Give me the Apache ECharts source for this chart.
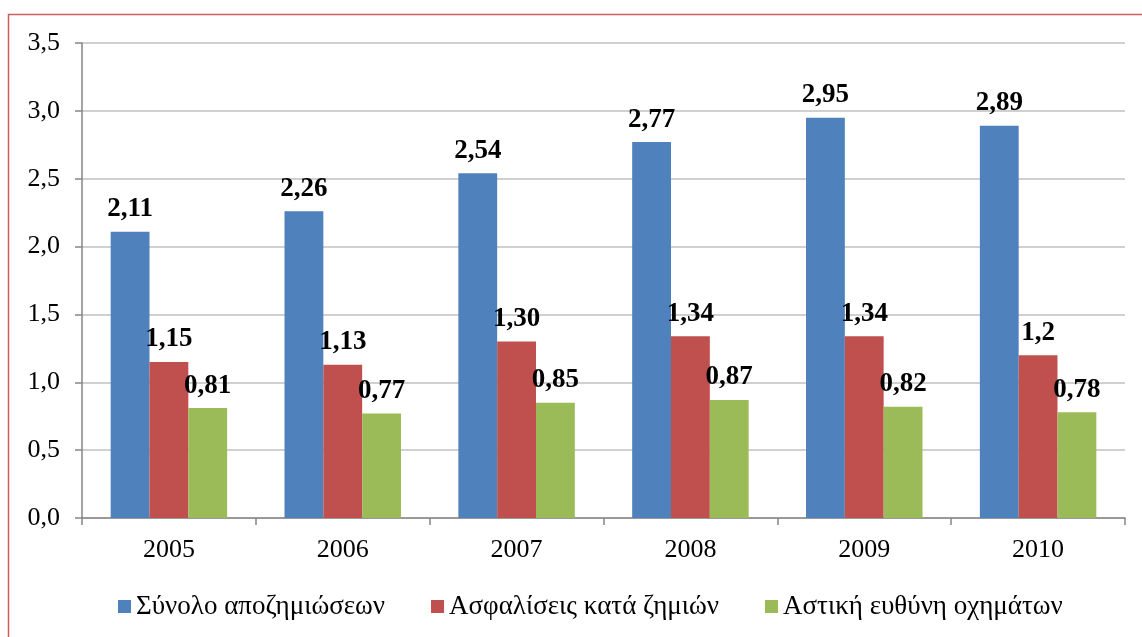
<!DOCTYPE html>
<html>
<head>
<meta charset="utf-8">
<script src="https://cdn.jsdelivr.net/npm/echarts@6/dist/echarts.min.js"></script>
<style>
  html, body { margin: 0; padding: 0; background: #fff; }
  #chart { width: 1142px; height: 637px; }
</style>
</head>
<body>
<div id="chart"></div>
<script>
const years = ["2005", "2006", "2007", "2008", "2009", "2010"];

const totalComp = [2.11, 2.26, 2.54, 2.77, 2.95, 2.89];
const damageIns = [1.15, 1.13, 1.30, 1.34, 1.34, 1.2];
const vehicleLiab = [0.81, 0.77, 0.85, 0.87, 0.82, 0.78];

// labels as printed in the picture (1,30 vs 1,2)
const totalLabels = ["2,11", "2,26", "2,54", "2,77", "2,95", "2,89"];
const damageLabels = ["1,15", "1,13", "1,30", "1,34", "1,34", "1,2"];
const vehicleLabels = ["0,81", "0,77", "0,85", "0,87", "0,82", "0,78"];

const seriesNames = [
  "Σύνολο αποζημιώσεων",
  "Ασφαλίσεις κατά ζημιών",
  "Αστική ευθύνη οχημάτων"
];

const font = "'Liberation Serif', 'Times New Roman', serif";

const chart = echarts.init(document.getElementById("chart"));

function makeBar(name, data, labels, color) {
  return {
    name: name,
    type: "bar",
    data: data,
    barGap: "0%",
    barCategoryGap: "33%",
    itemStyle: { color: color },
    label: {
      show: true,
      position: "top",
      distance: 9,
      fontFamily: font,
      fontWeight: "bold",
      fontSize: 27,
      color: "#000",
      formatter: p => labels[p.dataIndex]
    }
  };
}

chart.setOption({
  animation: false,
  textStyle: { fontFamily: font },
  grid: {
    left: 82,
    top: 43,
    right: 17,
    bottom: 119
  },
  legend: {
    bottom: 12,
    left: 113,
    itemWidth: 13,
    itemHeight: 13,
    itemGap: 46,
    icon: "rect",
    textStyle: { fontFamily: font, fontSize: 27, color: "#000" },
    data: seriesNames
  },
  xAxis: {
    type: "category",
    data: years,
    axisLine: { lineStyle: { color: "#868686", width: 1.5 } },
    axisTick: { show: true, length: 7, lineStyle: { color: "#868686", width: 1.5 } },
    axisLabel: { fontFamily: font, fontSize: 26, color: "#000", margin: 19 }
  },
  yAxis: {
    type: "value",
    min: 0,
    max: 3.5,
    interval: 0.5,
    axisLine: { show: true, lineStyle: { color: "#868686", width: 1.5 } },
    axisTick: { show: true, length: 7, lineStyle: { color: "#868686", width: 1.5 } },
    splitLine: { lineStyle: { color: "#C0C0C0", width: 1.5 } },
    axisLabel: {
      fontFamily: font,
      fontSize: 26,
      color: "#000",
      margin: 22,
      formatter: v => v.toFixed(1).replace(".", ",")
    }
  },
  graphic: [
    {
      type: "rect",
      shape: { x: 8.5, y: 14.5, width: 1200, height: 700 },
      style: { fill: "none", stroke: "#C9605E", lineWidth: 1.5 },
      silent: true
    }
  ],
  series: [
    makeBar(seriesNames[0], totalComp, totalLabels, "#4F81BD"),
    makeBar(seriesNames[1], damageIns, damageLabels, "#C0504D"),
    makeBar(seriesNames[2], vehicleLiab, vehicleLabels, "#9BBB59")
  ]
});
</script>
</body>
</html>
